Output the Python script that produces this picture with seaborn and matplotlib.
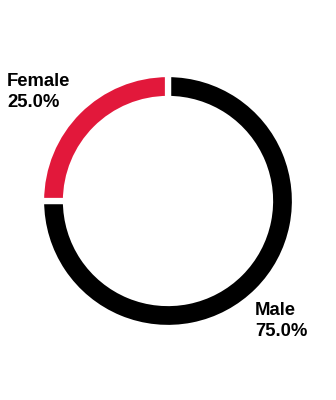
import matplotlib
matplotlib.use("Agg")
import matplotlib.pyplot as plt
import seaborn as sns

categories = ["Male", "Female"]
values = [75.0, 25.0]
colors = ["#000000", "#e2183b"]

sns.set_theme(style="white")
plt.rcParams['font.family'] = ['Liberation Sans', 'DejaVu Sans']

fig = plt.figure(figsize=(3.36, 4.0), dpi=100)
ax = fig.add_axes([0, 0, 1, 1])
ax.pie(values, colors=colors, startangle=90, counterclock=False,
       center=(168, 199), radius=127,
       wedgeprops=dict(width=25, edgecolor="white", linewidth=4.5))
ax.set_xlim(0, 336)
ax.set_ylim(0, 400)
ax.set_aspect("equal")
ax.axis("off")

ax.text(7, 327, f"{categories[1]}\n{values[1]:.1f}%", fontsize=13.3,
        fontweight="bold", ha="left", va="top", linespacing=1.3, color="black")
ax.text(255, 98, f"{categories[0]}\n{values[0]:.1f}%", fontsize=13.3,
        fontweight="bold", ha="left", va="top", linespacing=1.3, color="black")

fig.savefig("out.png", dpi=100, facecolor="white")
